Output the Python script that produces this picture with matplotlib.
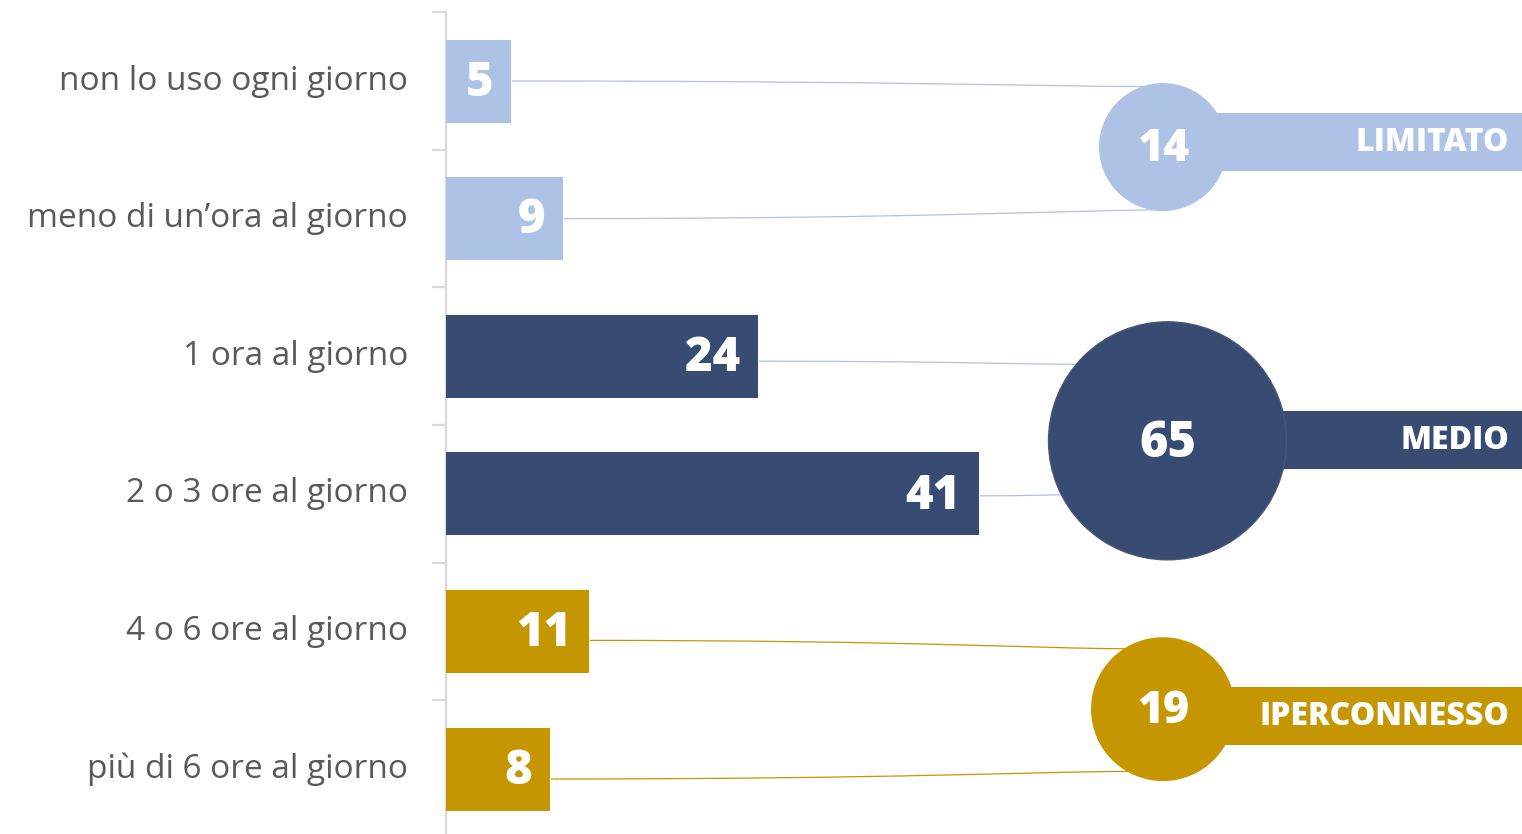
import numpy as np
import matplotlib
matplotlib.use("Agg")
import matplotlib.pyplot as plt
from matplotlib.patches import Ellipse, Rectangle, PathPatch
from matplotlib.path import Path

# survey answers: daily usage time
categories = ["non lo uso ogni giorno", "meno di un\u2019ora al giorno", "1 ora al giorno",
              "2 o 3 ore al giorno", "4 o 6 ore al giorno", "più di 6 ore al giorno"]
values = [5, 9, 24, 41, 11, 8]
group_of = [0, 0, 1, 1, 2, 2]

# usage groups
groups = ["LIMITATO", "MEDIO", "IPERCONNESSO"]
group_totals = [14, 65, 19]
group_colors = ["#adc2e4", "#374b73", "#c59600"]

W, H = 1522, 834
X0 = 446          # pixel position of value 0
SX = 13.0         # pixels per unit
Y0 = 81           # pixel position of first row
SY = 137.6        # pixels per row

fig = plt.figure(figsize=(W / 100, H / 100), dpi=100)
ax = fig.add_axes([0, 0, 1, 1])
ax.set_xlim(-X0 / SX, (W - X0) / SX)
ax.set_ylim((H - Y0) / SY, -Y0 / SY)
ax.axis("off")

font = "Open Sans"
rows = np.arange(len(values))
cols = [group_colors[g] for g in group_of]

# axis line with row separators
ax.plot([0, 0], [-0.5, (H - Y0) / SY], color="#d9d9d9", lw=1.6, zorder=1)
for b in np.arange(-0.5, len(values) - 0.5):
    ax.plot([-13 / SX, 0], [b, b], color="#d9d9d9", lw=1.6, zorder=1)

ax.barh(rows, values, height=83 / SY, color=cols, zorder=2)

for i, (c, v) in enumerate(zip(categories, values)):
    ax.text((408 - X0) / SX, i, c, ha="right", va="center", fontsize=24,
            color="#595959", family=font)
    ax.text(v - 18 / SX, i + 0.02, str(v), ha="right", va="center", fontsize=34,
            color="white", fontweight="heavy", family=font, zorder=4)

# bubbles and group bands
circ_x = [55.15, 55.5, 55.15]
circ_y = [0.48, 2.615, 4.565]
band_y = [0.443, 2.609, 4.615]
radii = [15 + 12.9 * np.sqrt(t) for t in group_totals]
for g, (name, tot, col) in enumerate(zip(groups, group_totals, group_colors)):
    r = radii[g]
    ax.add_patch(Rectangle((circ_x[g], band_y[g] - 29 / SY), 100, 58 / SY,
                           color=col, lw=0, zorder=2))
    ax.add_patch(Ellipse((circ_x[g], circ_y[g]), 2 * r / SX, 2 * r / SY,
                         facecolor=col, edgecolor="#4a5670" if g == 1 else col,
                         lw=1.0, zorder=3))
    ax.text(circ_x[g], circ_y[g] + 0.02, str(tot), ha="center", va="center",
            fontsize=32 if tot < 50 else 35, color="white", fontweight="heavy",
            family=font, zorder=4)
    ax.text((1509 - X0) / SX, band_y[g] + 0.01, name, ha="right", va="center",
            fontsize=23, color="white", fontweight="heavy", family=font, zorder=4)

# connectors from bar ends to the bubble edge
start_dy = [0, 0, 5, 2, 9, 10]
angles = [107, -82, 140, -153, 122, -119]
for i, v in enumerate(values):
    g = group_of[i]
    r = radii[g]
    x0 = v + 1 / SX
    y0 = i + start_dy[i] / SY
    a = np.radians(angles[i])
    x1 = circ_x[g] + r * np.cos(a) / SX
    y1 = circ_y[g] - r * np.sin(a) / SY
    dx = x1 - x0
    verts = [(x0, y0), (x0 + 0.6 * dx, y0), (x1 - 0.15 * dx, y1), (x1, y1)]
    path = Path(verts, [Path.MOVETO, Path.CURVE4, Path.CURVE4, Path.CURVE4])
    line_col = group_colors[0] if g == 1 else group_colors[g]
    ax.add_patch(PathPatch(path, facecolor="none", edgecolor=line_col,
                           lw=0.9, zorder=2.5))

fig.savefig("out.png", dpi=100, facecolor="white")
